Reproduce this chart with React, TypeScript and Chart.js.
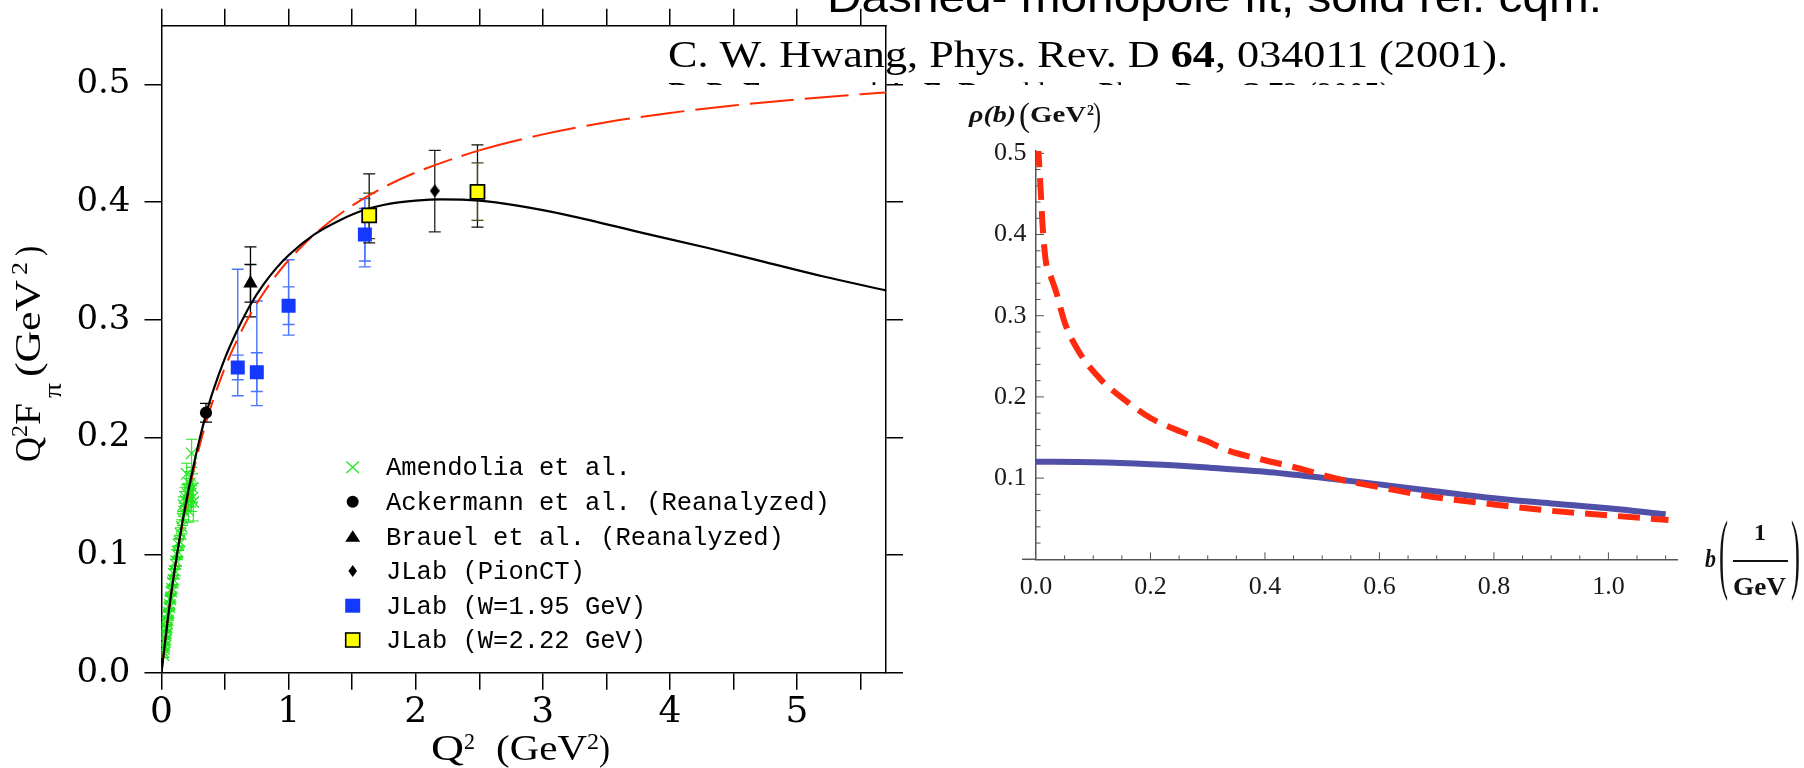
import React, { useEffect, useRef } from 'react';
import { Chart, registerables } from 'chart.js';

Chart.register(...registerables);

const PAGE_W = 1804;
const PAGE_H = 768;

// ---------------- Left panel: Q^2 F_pi vs Q^2 ----------------
const q2AxisTicks = [0, 0.5, 1, 1.5, 2, 2.5, 3, 3.5, 4, 4.5, 5, 5.5];
const q2AxisLabels = ['0', '', '1', '', '2', '', '3', '', '4', '', '5', ''];
const ffAxisTicks = [0, 0.1, 0.2, 0.3, 0.4, 0.5];
const ffAxisLabels = ['0.0', '0.1', '0.2', '0.3', '0.4', '0.5'];

// solid curve: relativistic constituent quark model
const relCqmQ2 = [0, 0.05, 0.1, 0.15, 0.2, 0.25, 0.3, 0.35, 0.4, 0.5, 0.6, 0.7, 0.8, 0.9, 1.0, 1.2, 1.4, 1.6, 1.8, 2.0, 2.2, 2.5, 2.8, 3.2, 3.8, 4.3, 4.75, 5.2, 5.7];
const relCqmQ2F = [0, 0.046, 0.0853, 0.119, 0.1485, 0.1748, 0.1986, 0.2196, 0.2376, 0.2676, 0.292, 0.3128, 0.3296, 0.3435, 0.3549, 0.3724, 0.3845, 0.3935, 0.3988, 0.4013, 0.4024, 0.4013, 0.397, 0.3888, 0.3735, 0.361, 0.349, 0.337, 0.325];

// dashed curve: monopole fit
const monopoleQ2 = [0, 0.05, 0.1, 0.15, 0.2, 0.25, 0.3, 0.35, 0.4, 0.5, 0.6, 0.7, 0.8, 0.9, 1.0, 1.25, 1.5, 1.75, 2.0, 2.5, 3.0, 3.5, 4.0, 4.5, 5.0, 5.5, 5.7];
const monopoleQ2F = [0, 0.0458, 0.0844, 0.1174, 0.146, 0.1709, 0.193, 0.2124, 0.2298, 0.2596, 0.284, 0.3049, 0.3224, 0.3375, 0.3506, 0.377, 0.397, 0.4127, 0.4252, 0.444, 0.4576, 0.4679, 0.4758, 0.4822, 0.4874, 0.4917, 0.4932];

// Amendolia et al.
const amendoliaQ2 = [0.015, 0.018, 0.021, 0.024, 0.027, 0.030, 0.033, 0.036, 0.039, 0.042, 0.045, 0.049, 0.053, 0.057, 0.061, 0.065, 0.069, 0.073, 0.078, 0.083, 0.088, 0.093, 0.098, 0.104, 0.110, 0.116, 0.122, 0.128, 0.135, 0.142, 0.150, 0.159, 0.165, 0.172, 0.178, 0.185, 0.190, 0.198, 0.205, 0.211, 0.218, 0.224, 0.230, 0.237, 0.244, 0.250, 0.237];
const amendoliaQ2F = [0.0150, 0.0172, 0.0208, 0.0228, 0.0262, 0.0281, 0.0316, 0.0334, 0.0370, 0.0385, 0.0421, 0.0446, 0.0490, 0.0512, 0.0556, 0.0577, 0.0621, 0.0640, 0.0690, 0.0716, 0.0766, 0.0790, 0.0840, 0.0866, 0.0922, 0.0948, 0.1004, 0.1028, 0.1090, 0.1117, 0.1182, 0.1240, 0.1310, 0.1425, 0.1370, 0.1496, 0.1460, 0.1690, 0.1520, 0.1380, 0.1550, 0.1610, 0.1520, 0.1480, 0.1570, 0.1450, 0.1865];
const amendoliaErr = [0.002, 0.002, 0.002, 0.002, 0.002, 0.002, 0.002, 0.002, 0.002, 0.002, 0.002, 0.002, 0.003, 0.003, 0.003, 0.003, 0.003, 0.003, 0.003, 0.003, 0.003, 0.004, 0.004, 0.004, 0.004, 0.004, 0.004, 0.005, 0.005, 0.005, 0.005, 0.006, 0.006, 0.007, 0.007, 0.008, 0.008, 0.009, 0.009, 0.010, 0.010, 0.010, 0.011, 0.011, 0.012, 0.016, 0.012];

// Ackermann et al. (Reanalyzed)
const ackermannQ2 = [0.35];
const ackermannQ2F = [0.221];
const ackermannLo = [0.213];
const ackermannHi = [0.229];

// Brauel et al. (Reanalyzed)
const brauelQ2 = [0.70];
const brauelQ2F = [0.331];
const brauelStatLo = [0.315];
const brauelStatHi = [0.347];
const brauelTotLo = [0.3025];
const brauelTotHi = [0.362];

// JLab (PionCT)
const pionctQ2 = [2.15];
const pionctQ2F = [0.4096];
const pionctLo = [0.3748];
const pionctHi = [0.444];

// JLab (W=1.95 GeV)
const jlab195Q2 = [0.60, 0.75, 1.00, 1.60];
const jlab195Q2F = [0.2595, 0.2555, 0.312, 0.3726];
const jlab195StatLo = [0.249, 0.239, 0.296, 0.350];
const jlab195StatHi = [0.270, 0.272, 0.328, 0.3946];
const jlab195TotLo = [0.2354, 0.227, 0.287, 0.345];
const jlab195TotHi = [0.343, 0.316, 0.351, 0.403];

// JLab (W=2.22 GeV)
const jlab222Q2 = [1.634, 2.486];
const jlab222Q2F = [0.3887, 0.4088];
const jlab222StatLo = [0.369, 0.3845];
const jlab222StatHi = [0.4077, 0.4334];
const jlab222TotLo = [0.3654, 0.3788];
const jlab222TotHi = [0.424, 0.4487];

const legendLabels = [
  'Amendolia et al.',
  'Ackermann et al. (Reanalyzed)',
  'Brauel et al. (Reanalyzed)',
  'JLab (PionCT)',
  'JLab (W=1.95 GeV)',
  'JLab (W=2.22 GeV)',
];

// ---------------- Right panel: rho(b) ----------------
const bAxisTicks = [0, 0.2, 0.4, 0.6, 0.8, 1.0];
const bAxisLabels = ['0.0', '0.2', '0.4', '0.6', '0.8', '1.0'];
const rhoAxisTicks = [0.1, 0.2, 0.3, 0.4, 0.5];
const rhoAxisLabels = ['0.1', '0.2', '0.3', '0.4', '0.5'];

const rhoMonoB = [0.0035, 0.0054, 0.0087, 0.0115, 0.0172, 0.026, 0.0357, 0.05, 0.0747, 0.1137, 0.152, 0.2, 0.254, 0.3, 0.331, 0.4, 0.448, 0.535, 0.6, 0.691, 0.8, 0.886, 1.0, 1.105];
const rhoMonoV = [0.510, 0.489, 0.448, 0.411, 0.367, 0.348, 0.328, 0.292, 0.256, 0.221, 0.198, 0.174, 0.157, 0.145, 0.135, 0.122, 0.114, 0.0977, 0.0888, 0.0771, 0.0676, 0.0607, 0.0541, 0.0484];

const rhoCqmB = [0, 0.1, 0.2, 0.3, 0.4, 0.5, 0.6, 0.7, 0.8, 0.9, 1.0, 1.1];
const rhoCqmV = [0.1202, 0.1195, 0.117, 0.113, 0.1079, 0.1005, 0.0923, 0.0835, 0.0751, 0.0688, 0.0628, 0.0554];

// ---------------- styles ----------------
const GREEN = '#22e622';
const BLUE = '#1538ff';
const BLUE_BAR = '#4a74ff';
const YELLOW = '#ffff00';
const RED_LEFT = '#ff2a00';
const RED_RIGHT = '#ff2b0f';
const CQM_BLUE = '#5050a8';
const AXIS_GRAY = '#555555';
const SERIF_TICK = "'DejaVu Serif', serif";
const SERIF = "'Liberation Serif', 'Times New Roman', serif";

const xy = (xs: number[], ys: number[]) => xs.map((v, i) => ({ x: v, y: ys[i] }));

function fitText(ctx: CanvasRenderingContext2D, text: string, x: number, y: number, w: number, font: string) {
  ctx.font = font;
  const m = ctx.measureText(text).width || 1;
  ctx.save();
  ctx.translate(x, y);
  ctx.scale(w / m, 1);
  ctx.fillText(text, 0, 0);
  ctx.restore();
}

function makeDiamond(w: number, h: number, color: string) {
  const c = document.createElement('canvas');
  c.width = w;
  c.height = h;
  const g = c.getContext('2d')!;
  g.fillStyle = color;
  g.beginPath();
  g.moveTo(w / 2, 0);
  g.lineTo(w, h / 2);
  g.lineTo(w / 2, h);
  g.lineTo(0, h / 2);
  g.closePath();
  g.fill();
  return c;
}

const zeroPad = (s: any) => {
  s.paddingLeft = 0;
  s.paddingRight = 0;
  s.paddingTop = 0;
  s.paddingBottom = 0;
};

function drawBars(ctx: CanvasRenderingContext2D, xs: any, ys: any, xv: number[], lo: number[], hi: number[], color: string, cap: number, lw: number) {
  ctx.strokeStyle = color;
  ctx.lineWidth = lw;
  for (let i = 0; i < xv.length; i++) {
    const px = xs.getPixelForValue(xv[i]);
    const p1 = ys.getPixelForValue(lo[i]);
    const p2 = ys.getPixelForValue(hi[i]);
    ctx.beginPath();
    ctx.moveTo(px, p1);
    ctx.lineTo(px, p2);
    ctx.moveTo(px - cap, p1);
    ctx.lineTo(px + cap, p1);
    ctx.moveTo(px - cap, p2);
    ctx.lineTo(px + cap, p2);
    ctx.stroke();
  }
}

function legendMarker(ctx: CanvasRenderingContext2D, idx: number, x: number, y: number) {
  ctx.save();
  if (idx === 0) {
    ctx.strokeStyle = GREEN;
    ctx.lineWidth = 1.3;
    ctx.beginPath();
    ctx.moveTo(x - 6.3, y - 5.8);
    ctx.lineTo(x + 6.3, y + 5.8);
    ctx.moveTo(x + 6.3, y - 5.8);
    ctx.lineTo(x - 6.3, y + 5.8);
    ctx.stroke();
  } else if (idx === 1) {
    ctx.fillStyle = '#000';
    ctx.beginPath();
    ctx.arc(x, y, 6, 0, Math.PI * 2);
    ctx.fill();
  } else if (idx === 2) {
    ctx.fillStyle = '#000';
    ctx.beginPath();
    ctx.moveTo(x, y - 6.5);
    ctx.lineTo(x + 7.5, y + 5);
    ctx.lineTo(x - 7.5, y + 5);
    ctx.closePath();
    ctx.fill();
  } else if (idx === 3) {
    ctx.fillStyle = '#000';
    ctx.beginPath();
    ctx.moveTo(x, y - 6);
    ctx.lineTo(x + 4.3, y);
    ctx.lineTo(x, y + 6);
    ctx.lineTo(x - 4.3, y);
    ctx.closePath();
    ctx.fill();
  } else if (idx === 4) {
    ctx.fillStyle = BLUE;
    ctx.fillRect(x - 7.5, y - 7, 15, 14);
  } else {
    ctx.fillStyle = YELLOW;
    ctx.fillRect(x - 7, y - 7, 14, 14);
    ctx.strokeStyle = '#000';
    ctx.lineWidth = 1.6;
    ctx.strokeRect(x - 7, y - 7, 14, 14);
  }
  ctx.restore();
}

const leftPlugin = {
  id: 'leftDecor',
  beforeDatasetsDraw(chart: any) {
    const { ctx, scales } = chart;
    const xs = scales.x;
    const ys = scales.y;
    ctx.save();
    ctx.save();
    const ca = chart.chartArea;
    ctx.beginPath();
    ctx.rect(ca.left, ca.top, ca.right - ca.left, ca.bottom - ca.top);
    ctx.clip();
    const amLo = amendoliaQ2F.map((v, i) => v - amendoliaErr[i]);
    const amHi = amendoliaQ2F.map((v, i) => v + amendoliaErr[i]);
    drawBars(ctx, xs, ys, amendoliaQ2, amLo, amHi, GREEN, 5.5, 1.1);
    ctx.restore();
    drawBars(ctx, xs, ys, ackermannQ2, ackermannLo, ackermannHi, '#000', 6, 1.3);
    drawBars(ctx, xs, ys, brauelQ2, brauelTotLo, brauelTotHi, '#000', 6, 1.3);
    drawBars(ctx, xs, ys, brauelQ2, brauelStatLo, brauelStatHi, '#000', 6, 1.3);
    drawBars(ctx, xs, ys, pionctQ2, pionctLo, pionctHi, '#222', 6, 1.3);
    drawBars(ctx, xs, ys, jlab195Q2, jlab195TotLo, jlab195TotHi, BLUE_BAR, 6, 1.4);
    drawBars(ctx, xs, ys, jlab195Q2, jlab195StatLo, jlab195StatHi, BLUE_BAR, 6, 1.4);
    drawBars(ctx, xs, ys, jlab222Q2, jlab222TotLo, jlab222TotHi, '#111', 6, 1.3);
    drawBars(ctx, xs, ys, jlab222Q2, jlab222StatLo, jlab222StatHi, '#4a4a14', 6, 1.3);
    ctx.restore();
  },
  afterDraw(chart: any) {
    const { ctx } = chart;
    ctx.save();
    ctx.fillStyle = '#000';
    ctx.textAlign = 'left';
    ctx.textBaseline = 'alphabetic';
    // x title: Q^2 (GeV^2)
    fitText(ctx, 'Q', 431, 760, 33, `35px ${SERIF}`);
    fitText(ctx, '2', 464, 749, 11, `23px ${SERIF}`);
    fitText(ctx, '(GeV', 496, 760, 91, `35px ${SERIF}`);
    fitText(ctx, '2', 587, 749, 12, `23px ${SERIF}`);
    fitText(ctx, ')', 599, 760, 11, `35px ${SERIF}`);
    // y title: Q^2 F_pi (GeV^2), rotated
    ctx.save();
    ctx.translate(40, 462);
    ctx.rotate(-Math.PI / 2);
    fitText(ctx, 'Q', 0, 0, 25, `35px ${SERIF}`);
    fitText(ctx, '2', 25, -13, 12, `23px ${SERIF}`);
    fitText(ctx, 'F', 37, 0, 22, `35px ${SERIF}`);
    fitText(ctx, 'π', 64, 21, 15, `25px ${SERIF}`);
    fitText(ctx, '(GeV', 85, 0, 97, `35px ${SERIF}`);
    fitText(ctx, '2', 187, -13, 13, `23px ${SERIF}`);
    fitText(ctx, ')', 206, 0, 10, `35px ${SERIF}`);
    ctx.restore();
    // legend
    const rows = [467.3, 501.7, 536.7, 571, 605.7, 640];
    ctx.font = "25.5px 'Liberation Mono', 'DejaVu Sans Mono', monospace";
    for (let i = 0; i < legendLabels.length; i++) {
      legendMarker(ctx, i, 352.7, rows[i]);
      ctx.fillStyle = '#000';
      ctx.fillText(legendLabels[i], 386, rows[i] + 8);
    }
    ctx.restore();
  },
};

const rightPlugin = {
  id: 'rightDecor',
  beforeDatasetsDraw(chart: any) {
    const { ctx, chartArea, scales } = chart;
    const xs = scales.x;
    const ys = scales.y;
    ctx.save();
    ctx.strokeStyle = AXIS_GRAY;
    ctx.lineWidth = 1.5;
    ctx.beginPath();
    ctx.moveTo(chartArea.left - 14, chartArea.bottom);
    ctx.lineTo(chartArea.left, chartArea.bottom);
    ctx.stroke();
    ctx.lineWidth = 1;
    ctx.beginPath();
    for (let k = 1; k <= 22; k++) {
      const px = xs.getPixelForValue(k * 0.05);
      const len = k % 4 === 0 ? 7 : 4;
      ctx.moveTo(px, chartArea.bottom);
      ctx.lineTo(px, chartArea.bottom - len);
    }
    for (let k = 1; k <= 25; k++) {
      const py = ys.getPixelForValue(k * 0.02);
      const len = k % 5 === 0 ? 8 : 4.5;
      ctx.moveTo(chartArea.left, py);
      ctx.lineTo(chartArea.left + len, py);
    }
    ctx.stroke();
    ctx.restore();
  },
  afterDraw(chart: any) {
    const { ctx } = chart;
    ctx.save();
    ctx.translate(-930, -90);
    ctx.fillStyle = '#111';
    ctx.textAlign = 'left';
    ctx.textBaseline = 'alphabetic';
    // y title: rho(b) (GeV^2)
    fitText(ctx, 'ρ(b)', 969, 121.7, 47, `italic bold 24px ${SERIF}`);
    fitText(ctx, '(', 1019, 126, 11, `34px ${SERIF}`);
    fitText(ctx, 'GeV', 1030, 121.7, 56, `bold 23px ${SERIF}`);
    fitText(ctx, '2', 1087, 114.5, 7, `bold 15px ${SERIF}`);
    fitText(ctx, ')', 1093, 126, 8, `34px ${SERIF}`);
    // x title: b (1/GeV)
    fitText(ctx, 'b', 1705, 566.7, 11, `italic bold 26px ${SERIF}`);
    fitText(ctx, '(', 1719, 582, 9, `88px ${SERIF}`);
    fitText(ctx, '1', 1754, 540, 12, `bold 23px ${SERIF}`);
    ctx.fillRect(1733, 560, 55, 2);
    fitText(ctx, 'GeV', 1733, 595, 53, `bold 26px ${SERIF}`);
    fitText(ctx, ')', 1791, 582, 9, `88px ${SERIF}`);
    ctx.restore();
  },
};

function buildLeft(canvas: HTMLCanvasElement) {
  const diamond = makeDiamond(10, 13, '#000');
  const monoDash = (c: any) => {
    const q = monopoleQ2[c.p0DataIndex];
    if (q < 1.25) return [22, 10];
    if (q < 2.5) return [30, 10];
    return [44, 11];
  };
  const gridStyle = { drawOnChartArea: false, drawTicks: true, tickLength: 17, color: '#000', lineWidth: 1.5 };
  const borderStyle = { display: true, color: '#000', width: 1.5 };
  return new Chart(canvas, {
    type: 'scatter',
    data: {
      datasets: [
        { label: 'JLab (W=2.22 GeV)', data: xy(jlab222Q2, jlab222Q2F), pointStyle: 'rect', pointRadius: 9.9, backgroundColor: YELLOW, borderColor: '#000', borderWidth: 1.8, xAxisID: 'x', yAxisID: 'y' },
        { label: 'JLab (W=1.95 GeV)', data: xy(jlab195Q2, jlab195Q2F), pointStyle: 'rect', pointRadius: 9.9, backgroundColor: BLUE, borderColor: BLUE, borderWidth: 0, xAxisID: 'x', yAxisID: 'y' },
        { label: 'JLab (PionCT)', data: xy(pionctQ2, pionctQ2F), pointStyle: diamond, pointRadius: 7, backgroundColor: '#000', borderColor: '#000', xAxisID: 'x', yAxisID: 'y' },
        { label: 'Brauel et al. (Reanalyzed)', data: xy(brauelQ2, brauelQ2F), pointStyle: 'triangle', pointRadius: 8.3, backgroundColor: '#000', borderColor: '#000', borderWidth: 0, xAxisID: 'x', yAxisID: 'y' },
        { label: 'Ackermann et al. (Reanalyzed)', data: xy(ackermannQ2, ackermannQ2F), pointStyle: 'circle', pointRadius: 6.1, backgroundColor: '#000', borderColor: '#000', borderWidth: 0, xAxisID: 'x', yAxisID: 'y' },
        { label: 'rel. cqm', data: xy(relCqmQ2, relCqmQ2F), showLine: true, pointRadius: 0, borderColor: '#000', borderWidth: 2.2, fill: false, cubicInterpolationMode: 'monotone', xAxisID: 'x', yAxisID: 'y' },
        { label: 'monopole fit', data: xy(monopoleQ2, monopoleQ2F), showLine: true, pointRadius: 0, borderColor: RED_LEFT, borderWidth: 2, fill: false, borderCapStyle: 'butt', cubicInterpolationMode: 'monotone', segment: { borderDash: monoDash }, xAxisID: 'x', yAxisID: 'y' },
        { label: 'Amendolia et al.', data: xy(amendoliaQ2, amendoliaQ2F), pointStyle: 'crossRot', pointRadius: 8, borderColor: GREEN, backgroundColor: GREEN, borderWidth: 1.2, xAxisID: 'x', yAxisID: 'y' },
      ],
    },
    options: {
      responsive: false,
      animation: false,
      events: [],
      layout: { padding: 0 },
      plugins: { legend: { display: false }, tooltip: { enabled: false } },
      scales: {
        x: {
          type: 'linear', axis: 'x', position: 'bottom', min: 0, max: 5.7,
          afterBuildTicks: (s: any) => { s.ticks = q2AxisTicks.map((v) => ({ value: v })); },
          afterFit: (s: any) => { s.height = PAGE_H - 672.7; zeroPad(s); },
          ticks: { autoSkip: false, maxRotation: 0, minRotation: 0, padding: 1, color: '#000', font: { family: SERIF_TICK, size: 36 }, callback: (_v: any, i: number) => q2AxisLabels[i] },
          grid: gridStyle,
          border: borderStyle,
        },
        xTop: {
          type: 'linear', axis: 'x', position: 'top', min: 0, max: 5.7,
          afterBuildTicks: (s: any) => { s.ticks = q2AxisTicks.map((v) => ({ value: v })); },
          afterFit: (s: any) => { s.height = 25.7; zeroPad(s); },
          ticks: { autoSkip: false, maxRotation: 0, minRotation: 0, callback: () => '' },
          grid: gridStyle,
          border: borderStyle,
        },
        y: {
          type: 'linear', axis: 'y', position: 'left', min: 0, max: 0.55,
          afterBuildTicks: (s: any) => { s.ticks = ffAxisTicks.map((v) => ({ value: v })); },
          afterFit: (s: any) => { s.width = 161.5; zeroPad(s); },
          ticks: { autoSkip: false, padding: 14, color: '#000', font: { family: SERIF_TICK, size: 34 }, callback: (_v: any, i: number) => ffAxisLabels[i] },
          grid: gridStyle,
          border: borderStyle,
        },
        yRight: {
          type: 'linear', axis: 'y', position: 'right', min: 0, max: 0.55,
          afterBuildTicks: (s: any) => { s.ticks = ffAxisTicks.map((v) => ({ value: v })); },
          afterFit: (s: any) => { s.width = 34; zeroPad(s); },
          ticks: { autoSkip: false, callback: () => '' },
          grid: gridStyle,
          border: borderStyle,
        },
      },
    } as any,
    plugins: [leftPlugin],
  } as any);
}

function buildRight(canvas: HTMLCanvasElement) {
  return new Chart(canvas, {
    type: 'scatter',
    data: {
      datasets: [
        { label: 'monopole fit', data: xy(rhoMonoB, rhoMonoV), showLine: true, pointRadius: 0, borderColor: RED_RIGHT, borderWidth: 6, borderDash: [22, 11], borderCapStyle: 'butt', fill: false, cubicInterpolationMode: 'monotone' },
        { label: 'rel. cqm', data: xy(rhoCqmB, rhoCqmV), showLine: true, pointRadius: 0, borderColor: CQM_BLUE, borderWidth: 6, fill: false, cubicInterpolationMode: 'monotone' },
      ],
    },
    options: {
      responsive: false,
      animation: false,
      events: [],
      layout: { padding: { top: 60.9, right: 126.9, bottom: 0, left: 0 } },
      plugins: { legend: { display: false }, tooltip: { enabled: false } },
      scales: {
        x: {
          type: 'linear', position: 'bottom', min: 0, max: 1.12,
          afterBuildTicks: (s: any) => { s.ticks = bAxisTicks.map((v) => ({ value: v })); },
          afterFit: (s: any) => { s.height = 530 - 469.3; zeroPad(s); },
          ticks: { autoSkip: false, maxRotation: 0, minRotation: 0, padding: 12, color: '#1a1a1a', font: { family: SERIF, size: 26 }, callback: (_v: any, i: number) => bAxisLabels[i] },
          grid: { display: false, drawTicks: false, drawOnChartArea: false },
          border: { display: true, color: AXIS_GRAY, width: 1.5 },
        },
        y: {
          type: 'linear', position: 'left', min: 0, max: 0.503,
          afterBuildTicks: (s: any) => { s.ticks = rhoAxisTicks.map((v) => ({ value: v })); },
          afterFit: (s: any) => { s.width = 106; zeroPad(s); },
          ticks: { autoSkip: false, padding: 9.5, color: '#1a1a1a', font: { family: SERIF, size: 26 }, callback: (_v: any, i: number) => rhoAxisLabels[i] },
          grid: { display: false, drawTicks: false, drawOnChartArea: false },
          border: { display: true, color: AXIS_GRAY, width: 1.5 },
        },
      },
    } as any,
    plugins: [rightPlugin],
  } as any);
}

function drawOverlay(c: HTMLCanvasElement) {
  const ctx = c.getContext('2d')!;
  ctx.clearRect(0, 0, c.width, c.height);
  ctx.fillStyle = '#000';
  ctx.textAlign = 'left';
  ctx.textBaseline = 'alphabetic';
  fitText(ctx, 'Dashed- monopole fit, solid rel. cqm.', 827, 12, 775, "42px 'Liberation Sans', Arial, sans-serif");

  // citation line with bold volume number
  const runs = [
    { t: 'C. W. Hwang, Phys. Rev. D ', f: `38px ${SERIF}` },
    { t: '64', f: `bold 38px ${SERIF}` },
    { t: ', 034011 (2001).', f: `38px ${SERIF}` },
  ];
  let total = 0;
  const widths = runs.map((r) => {
    ctx.font = r.f;
    const w = ctx.measureText(r.t).width;
    total += w;
    return w;
  });
  const sx = 840 / total;
  ctx.save();
  ctx.translate(668, 66.7);
  ctx.scale(sx, 1);
  let cx = 0;
  runs.forEach((r, i) => {
    ctx.font = r.f;
    ctx.fillText(r.t, cx, 0);
    cx += widths[i];
  });
  ctx.restore();

  // next reference line, almost fully hidden: only a thin strip of its tallest letters shows
  ctx.save();
  ctx.beginPath();
  ctx.rect(660, 82.3, 760, 2.8);
  ctx.clip();
  fitText(ctx, 'D. R. Entem and A. E. Dorokhov, Phys. Rev. C 72 (2005).', 668, 108, 730, `38px ${SERIF}`);
  ctx.restore();
}

export default function App() {
  const leftRef = useRef<HTMLCanvasElement>(null);
  const rightRef = useRef<HTMLCanvasElement>(null);
  const ovRef = useRef<HTMLCanvasElement>(null);

  useEffect(() => {
    const left = buildLeft(leftRef.current!);
    const right = buildRight(rightRef.current!);
    drawOverlay(ovRef.current!);
    return () => {
      left.destroy();
      right.destroy();
    };
  }, []);

  return (
    <div style={{ position: 'fixed', left: 0, top: 0, width: PAGE_W, height: PAGE_H, background: '#fff', overflow: 'hidden' }}>
      <canvas ref={leftRef} width={920} height={PAGE_H} style={{ position: 'absolute', left: 0, top: 0 }} />
      <canvas ref={rightRef} width={874} height={530} style={{ position: 'absolute', left: 930, top: 90 }} />
      <canvas ref={ovRef} width={PAGE_W} height={PAGE_H} style={{ position: 'absolute', left: 0, top: 0, pointerEvents: 'none' }} />
    </div>
  );
}
